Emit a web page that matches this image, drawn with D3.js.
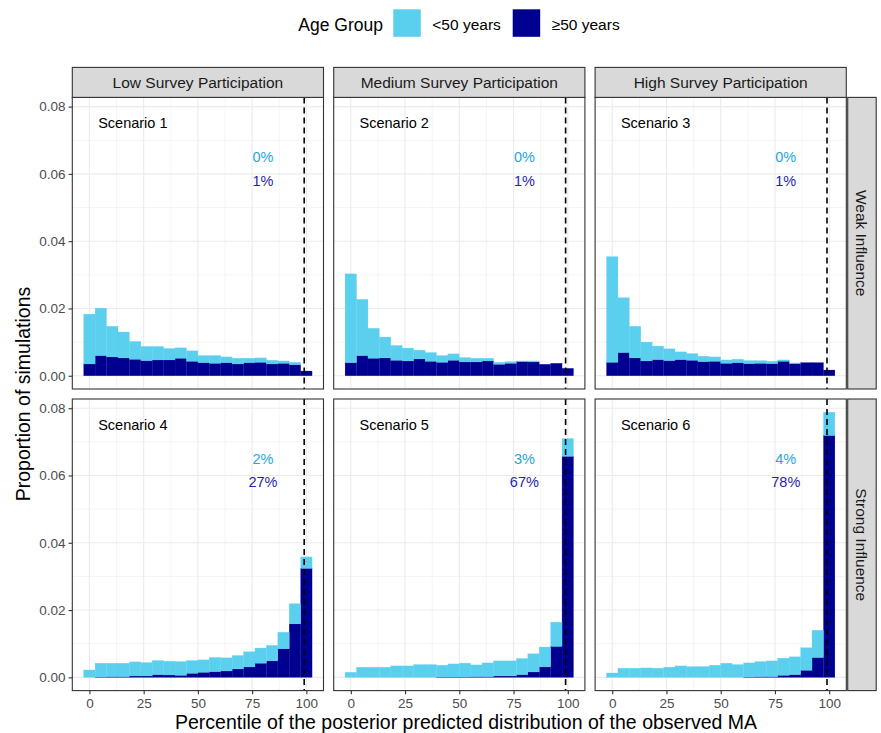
<!DOCTYPE html>
<html>
<head>
<meta charset="utf-8">
<script src="https://cdn.jsdelivr.net/npm/d3@7"></script>
<style>
  body { margin: 0; background: #fff; }
  svg { display: block; font-family: "Liberation Sans", Arial, Helvetica, sans-serif; }
</style>
</head>
<body>
<svg id="chart" width="881" height="733"></svg>
<script>
// Histogram bins: 20 bins over 0–100, centred on these percentiles
const binCenters = [0, 5.26, 10.53, 15.79, 21.05, 26.32, 31.58, 36.84, 42.11, 47.37,
                    52.63, 57.89, 63.16, 68.42, 73.68, 78.95, 84.21, 89.47, 94.74, 100];
const binWidth = 5.263;

const participationLevels = ["Low Survey Participation", "Medium Survey Participation", "High Survey Participation"];
const influenceLevels = ["Weak Influence", "Strong Influence"];
const scenarioNames = ["Scenario 1", "Scenario 2", "Scenario 3", "Scenario 4", "Scenario 5", "Scenario 6"];
const ageGroups = ["<50 years", "\u226550 years"];

// Proportion of simulations per bin, age group <50 years (stacked on top)
const under50_s1 = [0.0148, 0.0141, 0.0091, 0.0077, 0.0053, 0.0042, 0.0040, 0.0034, 0.0031, 0.0031,
                    0.0021, 0.0023, 0.0017, 0.0017, 0.0013, 0.0013, 0.0011, 0.0007, 0.0007, 0.0000];
const under50_s2 = [0.0264, 0.0167, 0.0089, 0.0062, 0.0044, 0.0038, 0.0026, 0.0026, 0.0020, 0.0019,
                    0.0013, 0.0011, 0.0008, 0.0006, 0.0005, 0.0002, 0.0003, 0.0000, 0.0000, 0.0000];
const under50_s3 = [0.0314, 0.0163, 0.0094, 0.0056, 0.0040, 0.0035, 0.0023, 0.0020, 0.0016, 0.0013,
                    0.0010, 0.0010, 0.0009, 0.0008, 0.0007, 0.0004, 0.0002, 0.0000, 0.0000, 0.0000];
const under50_s4 = [0.0022, 0.0041, 0.0040, 0.0040, 0.0042, 0.0040, 0.0042, 0.0041, 0.0041, 0.0038,
                    0.0037, 0.0042, 0.0039, 0.0040, 0.0045, 0.0045, 0.0046, 0.0049, 0.0060, 0.0034];
const under50_s5 = [0.0015, 0.0030, 0.0030, 0.0030, 0.0034, 0.0034, 0.0038, 0.0038, 0.0035, 0.0039,
                    0.0041, 0.0035, 0.0041, 0.0045, 0.0045, 0.0048, 0.0054, 0.0059, 0.0072, 0.0053];
const under50_s6 = [0.0013, 0.0027, 0.0027, 0.0028, 0.0027, 0.0030, 0.0034, 0.0032, 0.0032, 0.0036,
                    0.0042, 0.0038, 0.0042, 0.0045, 0.0047, 0.0051, 0.0053, 0.0067, 0.0081, 0.0069];

// Proportion of simulations per bin, age group >=50 years (bottom of stack)
const over50_s1 = [0.0035, 0.0060, 0.0056, 0.0053, 0.0049, 0.0045, 0.0047, 0.0047, 0.0052, 0.0043,
                   0.0039, 0.0037, 0.0039, 0.0035, 0.0039, 0.0040, 0.0035, 0.0037, 0.0033, 0.0014];
const over50_s2 = [0.0039, 0.0060, 0.0052, 0.0053, 0.0046, 0.0044, 0.0050, 0.0043, 0.0040, 0.0046,
                   0.0041, 0.0041, 0.0044, 0.0034, 0.0037, 0.0042, 0.0041, 0.0034, 0.0037, 0.0022];
const over50_s3 = [0.0040, 0.0069, 0.0053, 0.0044, 0.0048, 0.0045, 0.0048, 0.0046, 0.0042, 0.0043,
                   0.0037, 0.0039, 0.0036, 0.0037, 0.0036, 0.0043, 0.0036, 0.0039, 0.0039, 0.0017];
const over50_s4 = [0.0000, 0.0001, 0.0002, 0.0002, 0.0004, 0.0004, 0.0008, 0.0007, 0.0006, 0.0012,
                   0.0015, 0.0017, 0.0019, 0.0025, 0.0031, 0.0042, 0.0049, 0.0085, 0.0159, 0.0324];
const over50_s5 = [0.0000, 0.0000, 0.0000, 0.0000, 0.0000, 0.0000, 0.0000, 0.0000, 0.0001, 0.0001,
                   0.0001, 0.0002, 0.0002, 0.0004, 0.0004, 0.0008, 0.0016, 0.0031, 0.0092, 0.0657];
const over50_s6 = [0.0000, 0.0000, 0.0000, 0.0000, 0.0000, 0.0000, 0.0000, 0.0000, 0.0000, 0.0000,
                   0.0000, 0.0000, 0.0001, 0.0002, 0.0002, 0.0006, 0.0008, 0.0021, 0.0059, 0.0719];

// Share of simulations beyond the observed-MA threshold, by age group
const pctUnder50 = ["0%", "0%", "0%", "2%", "3%", "4%"];
const pctOver50 = ["1%", "1%", "1%", "27%", "67%", "78%"];

const observedPercentile = 99;

const xMajor = [0, 25, 50, 75, 100];
const xMinor = [12.5, 37.5, 62.5, 87.5];
const yMajor = [0, 0.02, 0.04, 0.06, 0.08];
const yMinor = [0.01, 0.03, 0.05, 0.07];

const under50Series = [under50_s1, under50_s2, under50_s3, under50_s4, under50_s5, under50_s6];
const over50Series = [over50_s1, over50_s2, over50_s3, over50_s4, over50_s5, over50_s6];

// ---- layout ----
const colLight = "#5BCFEE", colDark = "#000090";
const txtLight = "#27A5DC", txtDark = "#1F1FAE";
const gridCol = "#EBEBEB", borderCol = "#333333", tickTxt = "#4D4D4D";

const panelLeft = 72.3, panelTop = 97.4;
const panelW = 251.2, panelH = 291.6, gapX = 10.2, gapY = 10;
const stripH = 30, rStripGap = 1.4, rStripW = 28.5;

const svg = d3.select("#chart");

// stacked data per panel
const panels = scenarioNames.map((name, i) => {
  const rows = binCenters.map((c, j) => ({ x: c, over: over50Series[i][j], under: under50Series[i][j] }));
  const stacked = d3.stack().keys(["over", "under"])(rows);
  return { name, i, row: Math.floor(i / 3), col: i % 3, stacked };
});

const maxTotal = d3.max(panels, p => d3.max(p.stacked[1], d => d[1]));
const binLo = binCenters[0] - binWidth / 2, binHi = binCenters[binCenters.length - 1] + binWidth / 2;
const xPad = (binHi - binLo) * 0.05;

const x = d3.scaleLinear().domain([binLo - xPad, binHi + xPad]).range([0, panelW]);
const y = d3.scaleLinear().domain([-0.05 * maxTotal, 1.05 * maxTotal]).range([panelH, 0]);

panels.forEach(p => {
  const px = panelLeft + p.col * (panelW + gapX);
  const py = panelTop + p.row * (panelH + gapY);
  const g = svg.append("g").attr("transform", `translate(${px},${py})`);

  g.append("rect").attr("width", panelW).attr("height", panelH).attr("fill", "#fff");

  // grid
  g.selectAll(".gxm").data(xMinor).join("line")
    .attr("x1", d => x(d)).attr("x2", d => x(d)).attr("y1", 0).attr("y2", panelH)
    .attr("stroke", gridCol).attr("stroke-width", 0.55);
  g.selectAll(".gym").data(yMinor).join("line")
    .attr("y1", d => y(d)).attr("y2", d => y(d)).attr("x1", 0).attr("x2", panelW)
    .attr("stroke", gridCol).attr("stroke-width", 0.55);
  g.selectAll(".gx").data(xMajor).join("line")
    .attr("x1", d => x(d)).attr("x2", d => x(d)).attr("y1", 0).attr("y2", panelH)
    .attr("stroke", gridCol).attr("stroke-width", 1.1);
  g.selectAll(".gy").data(yMajor).join("line")
    .attr("y1", d => y(d)).attr("y2", d => y(d)).attr("x1", 0).attr("x2", panelW)
    .attr("stroke", gridCol).attr("stroke-width", 1.1);

  // stacked histogram bars
  const fills = [colDark, colLight];
  p.stacked.forEach((layer, k) => {
    g.append("g").selectAll("rect").data(layer.filter(d => d[1] > d[0])).join("rect")
      .attr("x", d => x(d.data.x - binWidth / 2))
      .attr("width", x(binWidth) - x(0))
      .attr("y", d => y(d[1]))
      .attr("height", d => y(d[0]) - y(d[1]))
      .attr("fill", fills[k])
      .attr("stroke", fills[k]).attr("stroke-opacity", 0.6).attr("stroke-width", 0.4);
  });

  // observed MA reference line
  g.append("line")
    .attr("x1", x(observedPercentile)).attr("x2", x(observedPercentile))
    .attr("y1", 0).attr("y2", panelH)
    .attr("stroke", "#000").attr("stroke-width", 1.6).attr("stroke-dasharray", "6,4");

  // annotations
  g.append("text").attr("x", x(20)).attr("y", y(0.075))
    .attr("text-anchor", "middle").attr("dominant-baseline", "central")
    .attr("font-size", "14.5px").attr("fill", "#000").text(p.name);
  g.append("text").attr("x", x(80)).attr("y", y(0.065))
    .attr("text-anchor", "middle").attr("dominant-baseline", "central")
    .attr("font-size", "14.5px").attr("fill", txtLight).text(pctUnder50[p.i]);
  g.append("text").attr("x", x(80)).attr("y", y(0.058))
    .attr("text-anchor", "middle").attr("dominant-baseline", "central")
    .attr("font-size", "14.5px").attr("fill", txtDark).text(pctOver50[p.i]);

  // panel border
  g.append("rect").attr("width", panelW).attr("height", panelH)
    .attr("fill", "none").attr("stroke", borderCol).attr("stroke-width", 1.1);

  // y axis on first column
  if (p.col === 0) {
    const ya = g.append("g").call(d3.axisLeft(y).tickValues(yMajor).tickFormat(d3.format(".2f")).tickSize(3.7).tickPadding(3));
    ya.select(".domain").remove();
    ya.selectAll("line").attr("stroke", borderCol).attr("stroke-width", 1.1);
    ya.selectAll("text").attr("fill", tickTxt).attr("font-size", "13.5px")
      .attr("font-family", "'Liberation Sans', Arial, sans-serif");
  }
  // x axis on bottom row
  if (p.row === 1) {
    const xa = g.append("g").attr("transform", `translate(0,${panelH})`)
      .call(d3.axisBottom(x).tickValues(xMajor).tickFormat(d3.format("d")).tickSize(3.7).tickPadding(4));
    xa.select(".domain").remove();
    xa.selectAll("line").attr("stroke", borderCol).attr("stroke-width", 1.1);
    xa.selectAll("text").attr("fill", tickTxt).attr("font-size", "13.5px")
      .attr("font-family", "'Liberation Sans', Arial, sans-serif");
  }
});

// column strips
participationLevels.forEach((lab, c) => {
  const sx = panelLeft + c * (panelW + gapX);
  svg.append("rect").attr("x", sx).attr("y", panelTop - stripH).attr("width", panelW).attr("height", stripH)
    .attr("fill", "#D9D9D9").attr("stroke", borderCol).attr("stroke-width", 1.1);
  svg.append("text").attr("x", sx + panelW / 2).attr("y", panelTop - stripH / 2)
    .attr("text-anchor", "middle").attr("dominant-baseline", "central")
    .attr("font-size", "15.5px").attr("fill", "#1A1A1A").text(lab);
});

// row strips
const rightEdge = panelLeft + 3 * panelW + 2 * gapX;
influenceLevels.forEach((lab, r) => {
  const sy = panelTop + r * (panelH + gapY);
  const sx = rightEdge + rStripGap;
  svg.append("rect").attr("x", sx).attr("y", sy).attr("width", rStripW).attr("height", panelH)
    .attr("fill", "#D9D9D9").attr("stroke", borderCol).attr("stroke-width", 1.1);
  svg.append("text")
    .attr("transform", `translate(${sx + rStripW / 2},${sy + panelH / 2}) rotate(90)`)
    .attr("text-anchor", "middle").attr("dominant-baseline", "central")
    .attr("font-size", "15.5px").attr("fill", "#1A1A1A").text(lab);
});

// axis titles
svg.append("text").attr("x", 466).attr("y", 728.5).attr("text-anchor", "middle")
  .attr("font-size", "19.5px").attr("fill", "#000")
  .text("Percentile of the posterior predicted distribution of the observed MA");
svg.append("text").attr("transform", `translate(30,${panelTop + panelH + gapY / 2}) rotate(-90)`)
  .attr("text-anchor", "middle").attr("font-size", "19.5px").attr("fill", "#000")
  .text("Proportion of simulations");

// legend
const lg = svg.append("g");
lg.append("text").attr("x", 298.3).attr("y", 30.5).attr("font-size", "17.5px").attr("fill", "#000").text("Age Group");
const keyX = [393.3, 512.7], keyFill = [colLight, colDark], labX = [432.3, 551.7];
ageGroups.forEach((lab, k) => {
  lg.append("rect").attr("x", keyX[k]).attr("y", 9.3).attr("width", 27.5).attr("height", 27.5).attr("fill", keyFill[k]);
  lg.append("text").attr("x", labX[k]).attr("y", 29.5).attr("font-size", "15.5px").attr("fill", "#000").text(lab);
});
</script>
</body>
</html>
